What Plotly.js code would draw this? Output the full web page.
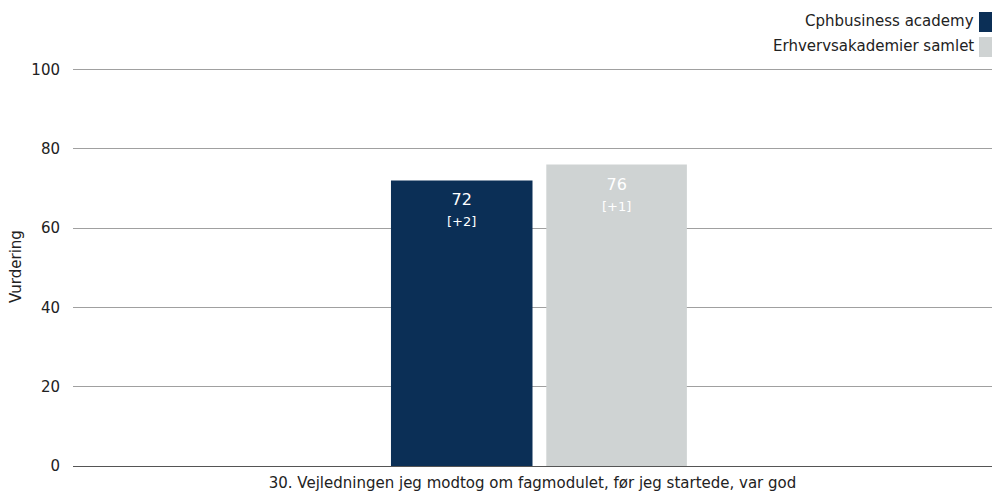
<!DOCTYPE html>
<html>
<head>
<meta charset="utf-8">
<script src="https://cdn.plot.ly/plotly-3.0.1.min.js"></script>
<style>html,body{margin:0;padding:0;background:#fff;}#chart{width:992px;height:491px;}</style>
</head>
<body>
<div id="chart"></div>
<script>
const categories = ["30. Vejledningen jeg modtog om fagmodulet, før jeg startede, var god"];
const seriesNames = ["Cphbusiness academy", "Erhvervsakademier samlet"];
const cphValues = [72];
const cphChanges = ["+2"];
const eaValues = [76];
const eaChanges = ["+1"];
const yTicks = [0, 20, 40, 60, 80, 100];

const FONT = "DejaVu Sans, sans-serif";
const colors = ["#0b2f56", "#cfd3d3"];
const barWidths = [0.154, 0.153];
const barOffsets = [-0.154, 0.015];

const allValues = [cphValues, eaValues];
const allChanges = [cphChanges, eaChanges];

const traces = allValues.map((vals, s) => ({
  type: "bar", name: seriesNames[s], x: categories, y: vals,
  marker: {color: colors[s]}, width: barWidths[s], offset: barOffsets[s],
  hoverinfo: "none", showlegend: false
}));

const annotations = [];
const shapes = [];
const mTop = 67, plotH = 399;

// value labels inside bar tops
allValues.forEach((vals, s) => {
  vals.forEach((v, i) => {
    annotations.push({
      xref: "x", yref: "y", x: i + barOffsets[s] + barWidths[s] / 2, y: v,
      yanchor: "top", yshift: -8, showarrow: false, align: "center",
      text: v + "<br><span style='font-size:13px'>[" + allChanges[s][i] + "]</span>",
      font: {family: FONT, size: 16, color: "#ffffff"}
    });
  });
});

// custom legend (text left of swatch)
seriesNames.forEach((n, i) => {
  annotations.push({text: n, xref: "paper", yref: "paper", x: (976 - 73) / 919, xanchor: "right",
    y: 1 + (mTop - (21 + i * 25)) / plotH, yanchor: "middle", showarrow: false,
    font: {family: FONT, size: 15, color: "#222"}});
  shapes.push({type: "rect", xref: "paper", yref: "paper", x0: (979 - 73) / 919, x1: (992 - 73) / 919,
    y0: 1 + (mTop - (32 + i * 25)) / plotH, y1: 1 + (mTop - (12 + i * 25)) / plotH,
    fillcolor: colors[i], line: {width: 0}});
});

const layout = {
  width: 992, height: 491,
  margin: {l: 73, r: 0, t: mTop, b: 25},
  paper_bgcolor: "#fff", plot_bgcolor: "#fff",
  font: {family: FONT, size: 15, color: "#222"},
  barmode: "group",
  xaxis: {type: "category", range: [-0.5, 0.5], showgrid: false, ticks: "", tickfont: {size: 15},
    ticklabelstandoff: 6},
  yaxis: {range: [0, 100.6], tickvals: yTicks, showgrid: true, gridcolor: "#a0a0a0", gridwidth: 1,
    zeroline: true, zerolinecolor: "#555", zerolinewidth: 1, ticklabelstandoff: 12,
    tickfont: {size: 15}, title: {text: "Vurdering", font: {size: 15}, standoff: 6}},
  showlegend: false,
  annotations: annotations, shapes: shapes
};

Plotly.newPlot("chart", traces, layout, {displayModeBar: false, staticPlot: true});
</script>
</body>
</html>
